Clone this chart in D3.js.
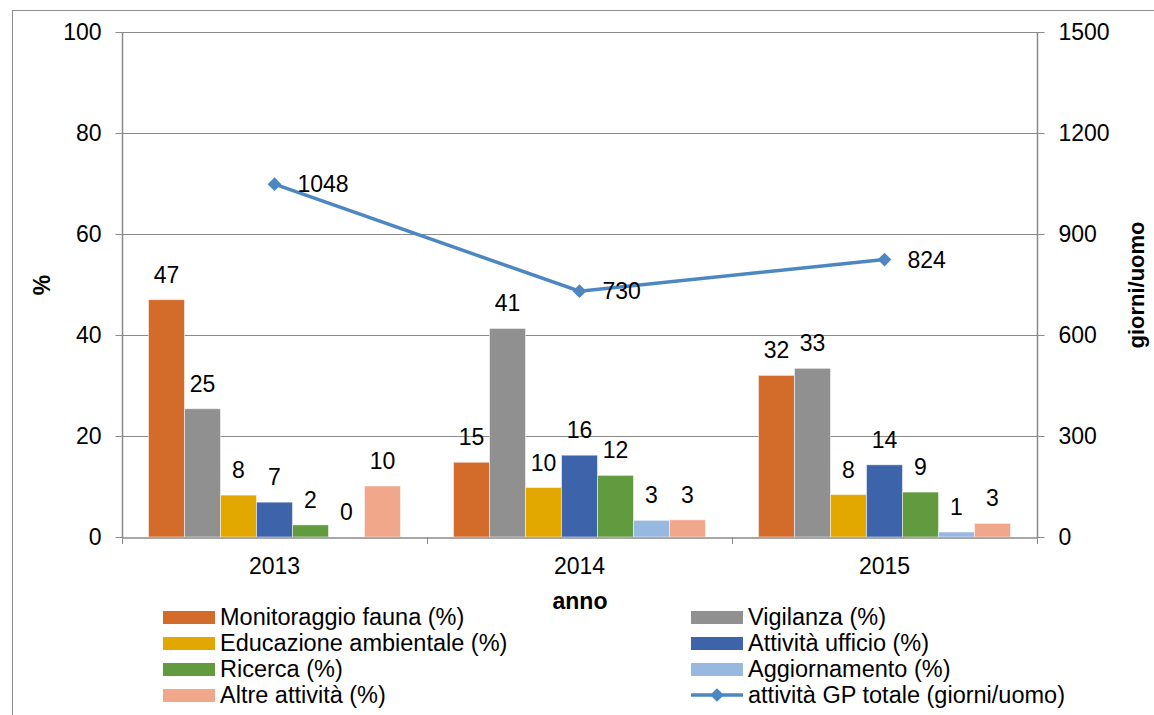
<!DOCTYPE html>
<html>
<head>
<meta charset="utf-8">
<script src="https://cdn.jsdelivr.net/npm/d3@7"></script>
<style>
  body { margin: 0; background: #fff; }
  text { font-family: "Liberation Sans", Arial, sans-serif; fill: #000; }
</style>
</head>
<body>
<div id="chart"></div>
<script>
// data
var years = ["2013", "2014", "2015"];
var seriesNames = ["Monitoraggio fauna (%)", "Vigilanza (%)", "Educazione ambientale (%)",
    "Attività ufficio (%)", "Ricerca (%)", "Aggiornamento (%)", "Altre attività (%)"];
var monitoraggio = [47.0, 14.8, 32.0];
var vigilanza = [25.4, 41.3, 33.4];
var educazione = [8.3, 9.8, 8.4];
var ufficio = [6.9, 16.2, 14.3];
var ricerca = [2.4, 12.2, 8.9];
var aggiornamento = [0, 3.3, 1.0];
var altre = [10.1, 3.4, 2.7];
var totale = [1048, 730, 824];
var lineName = "attività GP totale (giorni/uomo)";
var leftTicks = [0, 20, 40, 60, 80, 100];
var rightTicks = [0, 300, 600, 900, 1200, 1500];

var seriesValues = [monitoraggio, vigilanza, educazione, ufficio, ricerca, aggiornamento, altre];
var colors = ["#D36C2B", "#909090", "#E2A800", "#3D64AB", "#629A3F", "#97B8DF", "#F1A78A"];
var lineColor = "#4D87C2";

var width = 1154, height = 715;
var plotLeft = 122, plotRight = 1037, plotTop = 32, plotBottom = 537;
var fontSize = "23px";

var svg = d3.select("#chart").append("svg")
    .attr("width", width)
    .attr("height", height);

// outer frame
svg.append("rect")
    .attr("x", 12.5).attr("y", 10.5)
    .attr("width", 1160).attr("height", 720)
    .attr("fill", "none").attr("stroke", "#8c8c8c").attr("stroke-width", 1);

var x0 = d3.scaleBand().domain(years).range([plotLeft, plotRight]).padding(0);
var x1 = d3.scaleBand().domain(d3.range(seriesNames.length))
    .range([26.5, x0.bandwidth() - 26.5]).padding(0);
var y = d3.scaleLinear().domain([0, 100]).range([plotBottom, plotTop]);
var y2 = d3.scaleLinear().domain([0, 1500]).range([plotBottom, plotTop]);

// gridlines
svg.append("g").selectAll("line")
    .data(leftTicks.slice(1))
    .enter().append("line")
    .attr("x1", plotLeft).attr("x2", plotRight)
    .attr("y1", function (d) { return Math.round(y(d)) + 0.5; })
    .attr("y2", function (d) { return Math.round(y(d)) + 0.5; })
    .attr("stroke", "#8a8a8a").attr("stroke-width", 1);

// bars
var groups = svg.append("g").selectAll("g")
    .data(years)
    .enter().append("g")
    .attr("transform", function (d) { return "translate(" + x0(d) + ",0)"; });

groups.selectAll("rect")
    .data(function (d, i) {
        return seriesValues.map(function (s, k) { return {k: k, v: s[i]}; });
    })
    .enter().append("rect")
    .attr("x", function (d) { return x1(d.k); })
    .attr("width", x1.bandwidth())
    .attr("y", function (d) { return y(d.v); })
    .attr("height", function (d) { return plotBottom - y(d.v); })
    .attr("fill", function (d) { return colors[d.k]; })
    .attr("stroke", "rgba(255,255,255,0.5)")
    .attr("stroke-width", 1);

groups.selectAll("text")
    .data(function (d, i) {
        return seriesValues.map(function (s, k) { return {k: k, v: s[i]}; });
    })
    .enter().append("text")
    .attr("x", function (d) { return x1(d.k) + x1.bandwidth() / 2; })
    .attr("y", function (d) { return y(d.v) - 17; })
    .attr("text-anchor", "middle")
    .style("font-size", fontSize)
    .text(function (d) { return d3.format(".0f")(d.v); });

// axes
var yAxisL = svg.append("g")
    .attr("transform", "translate(" + (plotLeft + 0.5) + ",0)")
    .call(d3.axisLeft(y).tickValues(leftTicks).tickSize(7).tickPadding(14));
var yAxisR = svg.append("g")
    .attr("transform", "translate(" + (plotRight + 0.5) + ",0)")
    .call(d3.axisRight(y2).tickValues(rightTicks).tickFormat(d3.format("d"))
        .tickSize(7).tickPadding(14));
var xAxis = svg.append("g")
    .attr("transform", "translate(0," + (plotBottom + 0.5) + ")")
    .call(d3.axisBottom(x0).tickSize(0).tickPadding(20));

[yAxisL, yAxisR, xAxis].forEach(function (a) {
    a.select(".domain").attr("stroke", "#8a8a8a").attr("stroke-width", 1.5);
    a.selectAll(".tick line").attr("stroke", "#8a8a8a");
    a.selectAll("text").style("font-size", fontSize)
        .style("font-family", "'Liberation Sans', Arial, sans-serif").attr("fill", "#000");
});
yAxisL.select(".domain").attr("d", "M0," + plotTop + "V" + plotBottom);
yAxisR.select(".domain").attr("d", "M0," + plotTop + "V" + plotBottom);

// category separator ticks
svg.append("g").selectAll("line")
    .data(x0.range().concat(years.slice(1).map(function (d) { return x0(d); })))
    .enter().append("line")
    .attr("x1", function (d) { return Math.round(d) + 0.5; })
    .attr("x2", function (d) { return Math.round(d) + 0.5; })
    .attr("y1", plotBottom).attr("y2", plotBottom + 7)
    .attr("stroke", "#8a8a8a");

// line series
var lineGen = d3.line()
    .x(function (d, i) { return x0(years[i]) + x0.bandwidth() / 2; })
    .y(function (d) { return y2(d); });

svg.append("path")
    .datum(totale)
    .attr("d", lineGen)
    .attr("fill", "none")
    .attr("stroke", lineColor)
    .attr("stroke-width", 3.5);

svg.append("g").selectAll("path")
    .data(totale)
    .enter().append("path")
    .attr("d", d3.symbol().type(d3.symbolDiamond2).size(120))
    .attr("transform", function (d, i) {
        return "translate(" + (x0(years[i]) + x0.bandwidth() / 2) + "," + y2(d) + ")";
    })
    .attr("fill", lineColor);

svg.append("g").selectAll("text")
    .data(totale)
    .enter().append("text")
    .attr("x", function (d, i) { return x0(years[i]) + x0.bandwidth() / 2 + 23; })
    .attr("y", function (d) { return y2(d) + 8; })
    .style("font-size", fontSize)
    .text(function (d) { return d; });

// axis titles
svg.append("text")
    .attr("transform", "translate(50,285) rotate(-90)")
    .attr("text-anchor", "middle")
    .style("font-size", fontSize).style("font-weight", "bold")
    .text("%");
svg.append("text")
    .attr("transform", "translate(1144,285) rotate(-90)")
    .attr("text-anchor", "middle")
    .style("font-size", "22px").style("font-weight", "bold")
    .text("giorni/uomo");
svg.append("text")
    .attr("x", 580).attr("y", 609)
    .attr("text-anchor", "middle")
    .style("font-size", fontSize).style("font-weight", "bold")
    .text("anno");

// legend
var legendItems = seriesNames.map(function (n, k) { return {name: n, color: colors[k], line: false}; });
legendItems.push({name: lineName, color: lineColor, line: true});

var legend = svg.append("g").selectAll("g")
    .data(legendItems)
    .enter().append("g")
    .attr("transform", function (d, i) {
        var col = i % 2, row = Math.floor(i / 2);
        return "translate(" + (col === 0 ? 163 : 691) + "," + (617 + row * 26) + ")";
    });

legend.filter(function (d) { return !d.line; })
    .append("rect")
    .attr("x", 0).attr("y", -6).attr("width", 52).attr("height", 13)
    .attr("fill", function (d) { return d.color; });

var lineItems = legend.filter(function (d) { return d.line; });
lineItems.append("line")
    .attr("x1", 0).attr("x2", 52).attr("y1", 0).attr("y2", 0)
    .attr("stroke", function (d) { return d.color; }).attr("stroke-width", 3.5);
lineItems.append("path")
    .attr("d", d3.symbol().type(d3.symbolDiamond2).size(120))
    .attr("transform", "translate(26,0)")
    .attr("fill", function (d) { return d.color; });

legend.append("text")
    .attr("x", 57).attr("y", 8)
    .style("font-size", "23.5px")
    .text(function (d) { return d.name; });
</script>
</body>
</html>
